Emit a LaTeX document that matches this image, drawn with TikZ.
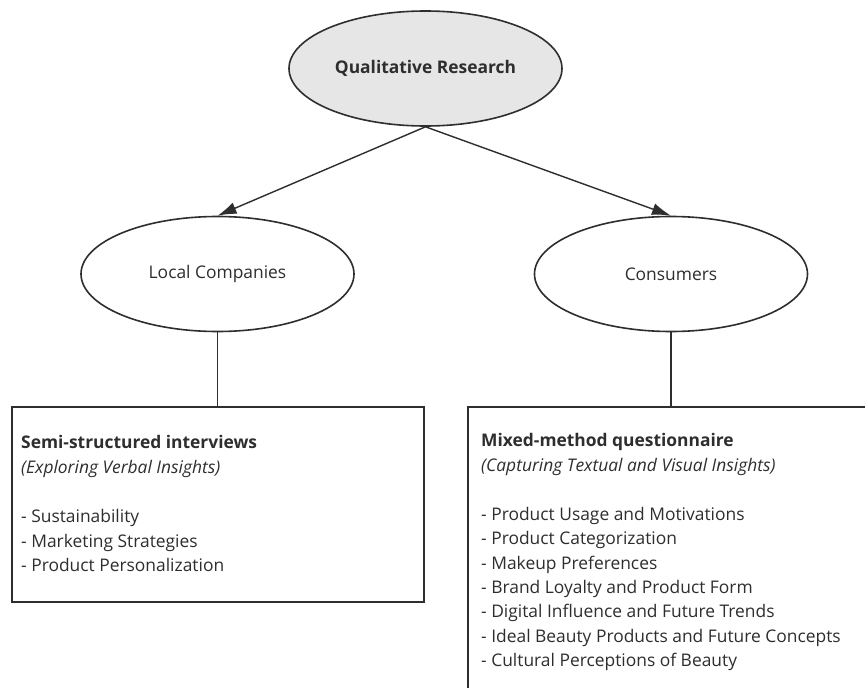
\documentclass[tikz,border=0pt]{standalone}
\usepackage{fontspec}
\setmainfont{Open Sans}
\usetikzlibrary{arrows.meta,shapes.geometric}

\definecolor{inkgrey}{HTML}{2E2E2E}
\definecolor{rootfill}{HTML}{E6E6E6}

\begin{document}
\begin{tikzpicture}[x=1pt, y=-1pt,
  txt/.style={font=\fontsize{17.4}{24.5}\selectfont, text=inkgrey},
  oval/.style={ellipse, draw=inkgrey, line width=1.6pt, minimum width=273pt,
               minimum height=115pt, inner sep=0pt, txt},
  panel/.style={draw=inkgrey, line width=1.6pt, inner sep=0pt},
  link/.style={draw=inkgrey, line width=1.4pt},
  arrowlink/.style={link, -{Latex[length=19pt,width=12pt]}},
  line/.style={txt, anchor=base west, inner sep=0pt},
  boldline/.style={line, font=\fontsize{17.4}{24.5}\selectfont\bfseries},
  itline/.style={line, font=\fontsize{17.4}{24.5}\selectfont\itshape}
]
% page
\path[fill=white] (0,0) rectangle (865,688);
\useasboundingbox (0,0) rectangle (865,688);

% ovals
\node[oval, fill=rootfill, font=\fontsize{17.4}{24.5}\selectfont\bfseries] (qr) at (425.5,68.5) {Qualitative Research};
\node[oval] (lc) at (217.5,274) {Local Companies};
\node[oval] (cons) at (671,274) {Consumers};

% boxes
\node[panel, anchor=north west, minimum width=412pt, minimum height=195pt] (lbox) at (11,406) {};
\node[panel, anchor=north west, minimum width=440pt, minimum height=320pt] (rbox) at (467,406) {};

% connectors
\draw[arrowlink] (qr.south) -- (lc.north);
\draw[arrowlink] (qr.south) -- (cons.north);
\draw[link] (lc.south) -- (lc.south |- lbox.north);
\draw[link] (cons.south) -- (cons.south |- rbox.north);

% left box text
\node[boldline] (lt1) at (21,448) {Semi-structured interviews};
\node[itline] (lt2) at (21,473) {(Exploring Verbal Insights)};
\node[line] (lt3) at (21,522) {- Sustainability};
\node[line] (lt4) at (21,547) {- Marketing Strategies};
\node[line] (lt5) at (21,571) {- Product Personalization};

% right box text
\node[boldline] (rt1) at (481,446) {Mixed-method questionnaire};
\node[itline] (rt2) at (481,471) {(Capturing Textual and Visual Insights)};
\node[line] (rt3) at (481,520) {- Product Usage and Motivations};
\node[line] (rt4) at (481,544) {- Product Categorization};
\node[line] (rt5) at (481,569) {- Makeup Preferences};
\node[line] (rt6) at (481,593) {- Brand Loyalty and Product Form};
\node[line] (rt7) at (481,617) {- Digital Influence and Future Trends};
\node[line] (rt8) at (481,642) {- Ideal Beauty Products and Future Concepts};
\node[line] (rt9) at (481,666) {- Cultural Perceptions of Beauty};
\end{tikzpicture}
\end{document}
